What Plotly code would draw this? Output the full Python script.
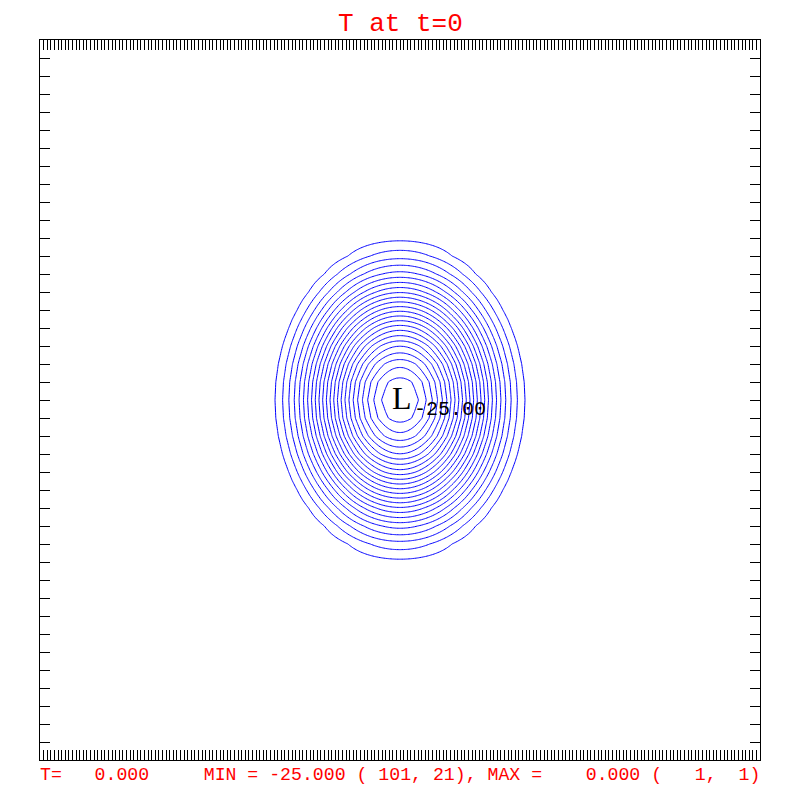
import numpy as np
import plotly.graph_objects as go

# ---- data ----
n_x, n_y = 201, 41                 # grid size (MIN at (101, 21), MAX at (1, 1))
min_point = (101, 21)
min_value = -25.0
max_value = 0.0
# contour levels (interval 1) and the half-height of each ring, in y-grid units
contour_levels = [-1, -2, -3, -4, -5, -6, -7, -8, -9, -10, -11, -12,
                  -13, -14, -15, -16, -17, -18, -19, -20, -21, -22, -23, -24]
ring_half_height = [8.80, 8.27, 7.83, 7.45, 7.11, 6.80, 6.51, 6.23, 5.97, 5.71, 5.45, 5.19,
                    4.93, 4.67, 4.41, 4.15, 3.88, 3.60, 3.30, 2.99, 2.65, 2.28, 1.85, 1.30]
outer_ring_half_width = 34.7       # x-grid units for the -1 ring
zero_radius = 10.05                # estimated radius where the field reaches 0
title_text = "T at t=0"
info_text = "T=   0.000     MIN = -25.000 ( 101, 21), MAX =    0.000 (   1,  1)"
low_mark = "L"
low_label = "-25.00"

# ---- build field on the grid from the read radial profile ----
# profile is interpolated in the variable t = arccos(sqrt(v/min)) so the field stays smooth
aspect = outer_ring_half_width / ring_half_height[0]
xs = np.arange(1, n_x + 1)
ys = np.arange(1, n_y + 1)
X, Y = np.meshgrid(xs, ys)
rho = np.sqrt(((X - min_point[0]) / aspect) ** 2 + (Y - min_point[1]) ** 2)
prof_r = np.array([0.0] + ring_half_height[::-1] + [zero_radius])
prof_v = np.array([min_value] + contour_levels[::-1] + [max_value])
prof_t = np.arccos(np.sqrt(prof_v / min_value))
T = np.interp(rho, prof_r, prof_t)
Z = min_value * np.cos(T) ** 2
Z[rho >= zero_radius] = max_value

fig = go.Figure()
fig.add_trace(go.Contour(
    x=xs, y=ys, z=Z,
    contours=dict(start=min(contour_levels), end=max(contour_levels), size=1,
                  coloring="lines", showlabels=False),
    colorscale=[[0, "#0000ff"], [1, "#0000ff"]],
    showscale=False,
    line=dict(width=1, smoothing=0),
    hoverinfo="skip",
))

axis_common = dict(showgrid=False, zeroline=False, showline=True, linecolor="black",
                   linewidth=1, mirror="ticks", ticks="inside", ticklen=10,
                   tickwidth=1, tickcolor="black", showticklabels=False, dtick=1, tick0=1)
fig.update_xaxes(range=[1, n_x], **axis_common)
fig.update_yaxes(range=[1, n_y], **axis_common)

nb = lambda s: s.replace(" ", "\u00a0")
fig.add_annotation(text=nb(title_text), xref="paper", yref="paper", x=0.5, y=1 + 16 / 720,
                   xanchor="center", yanchor="middle", showarrow=False,
                   font=dict(family="Liberation Mono", size=26, color="#ff0000"))
fig.add_annotation(text=nb(info_text), xref="paper", yref="paper", x=-2 / 720, y=-15 / 720,
                   xanchor="left", yanchor="middle", showarrow=False,
                   font=dict(family="Liberation Mono", size=18.2, color="#ff0000"))
fig.add_annotation(text=low_mark, xref="x", yref="y", x=min_point[0], y=min_point[1],
                   xanchor="center", yanchor="middle", xshift=2, yshift=2, showarrow=False,
                   font=dict(family="Liberation Serif", size=32, color="black"))
fig.add_annotation(text=low_label, xref="x", yref="y", x=min_point[0], y=min_point[1],
                   xanchor="left", yanchor="middle", xshift=12, yshift=-9, showarrow=False,
                   font=dict(family="Liberation Mono", size=20, color="black"))

fig.update_layout(width=800, height=800, margin=dict(l=40, r=40, t=40, b=40),
                  paper_bgcolor="white", plot_bgcolor="white", showlegend=False)
fig.write_html("out.html", config={"displayModeBar": False},
               post_script="document.body.style.margin='0';document.body.style.padding='0';")
